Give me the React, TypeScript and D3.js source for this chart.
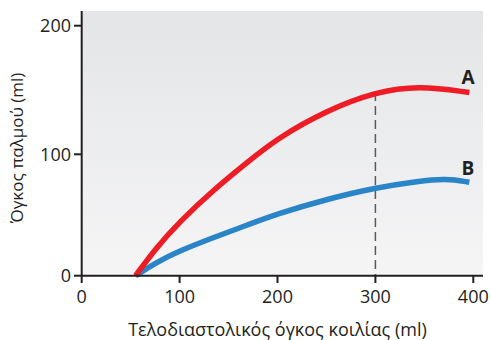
import React from 'react';
import * as d3 from 'd3';

// Frank-Starling type curves
const volumeA = [55, 75, 100, 135, 170, 200, 250, 300, 345, 396];
const strokeA = [0, 22, 44.5, 71, 94, 112.5, 134, 148.5, 153.5, 148];
const volumeB = [55, 75, 100, 135, 170, 200, 250, 300, 345, 372, 396];
const strokeB = [0, 10.5, 20.6, 31.6, 42, 51, 63, 72.5, 78, 80, 77];

const xTicks = [0, 100, 200, 300, 400];
const yTicks = [0, 100, 200];
const markerX = 300;

const xTitle = 'Τελοδιαστολικός όγκος κοιλίας (ml)';
const yTitle = 'Όγκος παλμού (ml)';

const width = 491;
const height = 340;
const font = '"Open Sans", "Noto Sans", sans-serif';

const App = () => {
  const x = d3.scaleLinear().domain([0, 400]).range([81.7, 473.3]);
  // the printed axis is slightly uneven, so a piecewise scale follows it
  const y = d3.scaleLinear().domain([0, 100, 200]).range([275.7, 154.3, 25.7]);

  const plotTop = 11;
  const plotRight = 483;

  const line = d3.line<[number, number]>()
    .x(d => x(d[0]))
    .y(d => y(d[1]))
    .curve(d3.curveBasis);

  const ptsA = volumeA.map((v, i) => [v, strokeA[i]] as [number, number]);
  const ptsB = volumeB.map((v, i) => [v, strokeB[i]] as [number, number]);

  const interpA = d3.scaleLinear().domain(volumeA).range(strokeA);

  return (
    <svg width={width} height={height} style={{ position: 'absolute', left: 0, top: 0 }}>
      <defs>
        <linearGradient id="bg" x1="0" y1="0" x2="0" y2="1">
          <stop offset="0%" stopColor="#e4e5e7" />
          <stop offset="100%" stopColor="#f5f5f6" />
        </linearGradient>
      </defs>

      <rect x={x(0)} y={plotTop} width={plotRight - x(0)} height={y(0) - plotTop} fill="url(#bg)" />

      {/* dashed marker at 300 ml */}
      <line
        x1={x(markerX)} x2={x(markerX)}
        y1={y(interpA(markerX))} y2={y(0)}
        stroke="#5a5a5a" strokeWidth={1.5} strokeDasharray="9,5"
      />

      <path d={line(ptsB) ?? ''} fill="none" stroke="#2a84c8" strokeWidth={5.5} />
      <path d={line(ptsA) ?? ''} fill="none" stroke="#ee1c25" strokeWidth={5.5} />

      <text x={468} y={84} textAnchor="middle" fontFamily={font} fontWeight="bold" fontSize={19} fill="#231f20">A</text>
      <text x={468} y={175} textAnchor="middle" fontFamily={font} fontWeight="bold" fontSize={19} fill="#231f20">B</text>

      {/* axes */}
      <line x1={x(0)} x2={plotRight} y1={y(0)} y2={y(0)} stroke="#231f20" strokeWidth={2} />
      <line x1={x(0)} x2={x(0)} y1={plotTop} y2={283} stroke="#231f20" strokeWidth={2} />

      {xTicks.map(t => (
        <g key={`x${t}`}>
          {t > 0 && <line x1={x(t)} x2={x(t)} y1={y(0)} y2={283} stroke="#231f20" strokeWidth={2} />}
          <text x={x(t)} y={303} textAnchor="middle" fontFamily={font} fontSize={18} fill="#231f20">{t}</text>
        </g>
      ))}

      {yTicks.map(t => (
        <g key={`y${t}`}>
          <line x1={74} x2={x(0)} y1={y(t)} y2={y(t)} stroke="#231f20" strokeWidth={2} />
          <text x={71} y={y(t) + 6.5} textAnchor="end" fontFamily={font} fontSize={18} fill="#231f20">{t}</text>
        </g>
      ))}

      <text x={277.5} y={336} textAnchor="middle" fontFamily={font} fontSize={18} fill="#231f20">{xTitle}</text>
      <text
        transform={`translate(23,148) rotate(-90)`}
        textAnchor="middle" fontFamily={font} fontSize={17} fill="#231f20"
      >{yTitle}</text>
    </svg>
  );
};

export default App;
